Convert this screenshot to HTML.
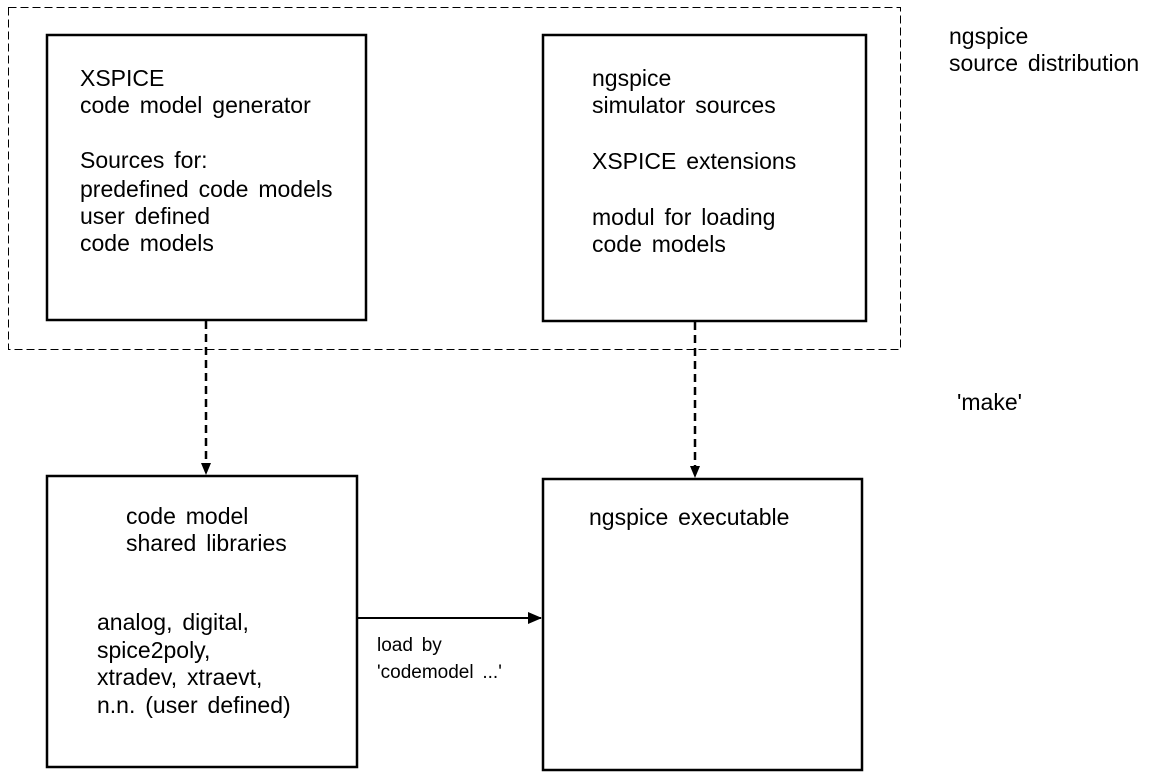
<!DOCTYPE html>
<html><head><meta charset="utf-8"><style>
html,body{margin:0;padding:0;background:#fff;}
svg text{font-family:"Liberation Sans",Arial,sans-serif;font-size:23px;fill:#000;word-spacing:3.5px;}
</style></head><body>
<svg width="1149" height="775" viewBox="0 0 1149 775" xmlns="http://www.w3.org/2000/svg">
<defs>
<marker id="ah" markerWidth="12" markerHeight="10" refX="11" refY="5" orient="auto" markerUnits="userSpaceOnUse">
<path d="M0,0 L12,5 L0,10 z" fill="#000"/></marker>
<marker id="ah2" markerWidth="14" markerHeight="12" refX="13" refY="6" orient="auto" markerUnits="userSpaceOnUse">
<path d="M0,0 L14,6 L0,12 z" fill="#000"/></marker>
</defs>
<rect x="8.5" y="7.5" width="892" height="342" fill="none" stroke="#000" stroke-width="1" stroke-dasharray="8,4"/>
<rect x="47" y="35" width="319" height="285" fill="#fff" stroke="#000" stroke-width="2.5"/>
<rect x="543" y="35" width="323" height="286" fill="#fff" stroke="#000" stroke-width="2.5"/>
<rect x="47" y="476" width="310" height="291" fill="#fff" stroke="#000" stroke-width="2.5"/>
<rect x="543" y="479" width="319" height="291" fill="#fff" stroke="#000" stroke-width="2.5"/>
<line x1="206" y1="321" x2="206" y2="474" stroke="#000" stroke-width="2.5" stroke-dasharray="8,5" marker-end="url(#ah)"/>
<line x1="695" y1="322" x2="695" y2="477" stroke="#000" stroke-width="2.5" stroke-dasharray="8,5" marker-end="url(#ah)"/>
<line x1="358" y1="618" x2="541" y2="618" stroke="#000" stroke-width="2" marker-end="url(#ah2)"/>
<text x="80" y="86">XSPICE</text>
<text x="80" y="113">code model generator</text>
<text x="80" y="168">Sources for:</text>
<text x="80" y="197">predefined code models</text>
<text x="80" y="224">user defined</text>
<text x="80" y="251">code models</text>
<text x="592" y="86">ngspice</text>
<text x="592" y="113">simulator sources</text>
<text x="592" y="169">XSPICE extensions</text>
<text x="592" y="225">modul for loading</text>
<text x="592" y="252">code models</text>
<text x="949" y="44">ngspice</text>
<text x="949" y="71">source distribution</text>
<text x="957" y="410">'make'</text>
<text x="126" y="524">code model</text>
<text x="126" y="551">shared libraries</text>
<text x="97" y="630">analog, digital,</text>
<text x="97" y="658">spice2poly,</text>
<text x="97" y="685">xtradev, xtraevt,</text>
<text x="97" y="713">n.n. (user defined)</text>
<text x="589" y="525">ngspice executable</text>
<text x="377" y="651" style="font-size:19px">load by</text>
<text x="377" y="678" style="font-size:19px">'codemodel ...'</text>
</svg>
</body></html>
